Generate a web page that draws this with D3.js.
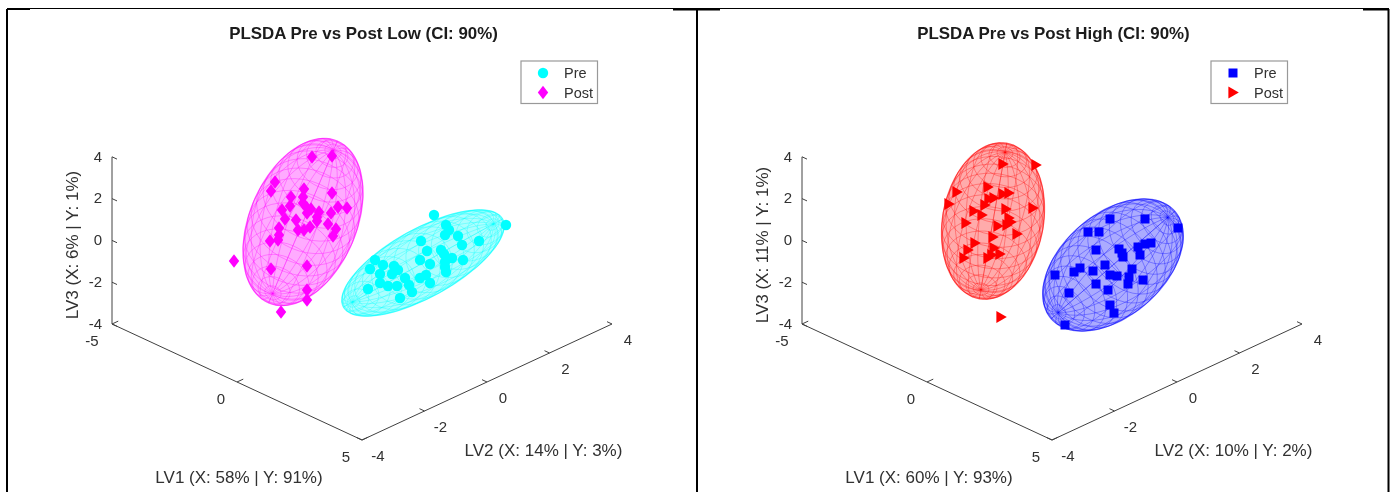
<!DOCTYPE html>
<html><head><meta charset="utf-8">
<script src="https://cdn.jsdelivr.net/npm/d3@7"></script>
<style>html,body{margin:0;background:#fff}svg{display:block}text{font-family:"Liberation Sans",Arial,sans-serif;fill:#303030}</style>
</head><body><div id="c"></div>
<script>
const titles = ["PLSDA Pre vs Post Low (CI: 90%)", "PLSDA Pre vs Post High (CI: 90%)"];
const legendNames = ["Pre", "Post"];
const lv1Labels = ["LV1 (X: 58% | Y: 91%)", "LV1 (X: 60% | Y: 93%)"];
const lv2Labels = ["LV2 (X: 14% | Y: 3%)", "LV2 (X: 10% | Y: 2%)"];
const lv3Labels = ["LV3 (X: 6% | Y: 1%)", "LV3 (X: 11% | Y: 1%)"];
const lv1Ticks = [-5, 0, 5];
const lv2Ticks = [-4, -2, 0, 2, 4];
const lv3Ticks = [-4, -2, 0, 2, 4];
// Point positions on the view plane of the 3D plot: [horizontal, vertical]
const preLow = [[7.2,22.5],[14.4,21.5],[8.4,21.5],[8.7,21.0],[8.3,20.5],[9.6,20.4],[5.9,19.9],[11.7,19.9],[10.0,19.5],[7.9,19.0],[6.5,18.9],[8.2,18.6],[9.0,18.2],[10.1,18.0],[5.8,18.0],[8.3,17.8],[1.3,18.0],[2.1,17.5],[6.8,17.6],[0.8,17.1],[3.2,17.4],[3.6,17.0],[3.0,16.6],[8.3,17.3],[8.4,16.8],[1.8,16.6],[4.3,16.2],[6.4,16.5],[5.8,16.2],[1.8,15.7],[2.6,15.4],[3.5,15.4],[4.7,15.5],[6.8,15.7],[5.0,14.8],[0.6,15.1],[3.8,14.2]];
const postLow = [[-5.0,28.3],[-3.0,28.4],[-8.7,25.8],[-9.1,24.9],[-5.8,25.1],[-3.0,24.7],[-7.1,24.3],[-5.9,24.3],[-7.2,23.4],[-5.9,23.7],[-5.5,23.2],[-8.0,23.0],[-5.1,23.1],[-4.3,22.8],[-5.5,22.7],[-2.4,23.3],[-1.5,23.2],[-3.1,22.7],[-4.5,22.3],[-7.7,22.1],[-6.6,22.0],[-4.5,21.9],[-3.4,21.6],[-8.3,21.2],[-5.2,21.3],[-6.4,21.0],[-5.8,21.0],[-2.6,21.1],[-2.9,20.4],[-8.3,20.5],[-9.2,19.9],[-8.4,20.0],[-12.8,17.9],[-9.1,17.1],[-5.5,17.4],[-5.5,15.0],[-5.5,14.0],[-8.1,12.8]];
const preHigh = [[5.8,22.1],[9.3,22.1],[12.6,21.2],[3.6,20.8],[4.7,20.8],[9.9,19.7],[9.3,19.6],[8.6,19.3],[4.4,19.0],[6.7,19.1],[7.0,18.7],[7.1,18.3],[8.8,18.5],[5.3,17.5],[8.0,17.1],[2.8,17.2],[2.2,16.8],[4.1,16.9],[0.3,16.5],[5.8,16.5],[6.5,16.4],[7.7,16.3],[9.1,16.0],[7.6,15.6],[4.4,15.6],[5.6,15.0],[1.7,14.7],[5.8,13.5],[6.2,12.7],[1.3,11.5]];
const postHigh = [[-4.9,27.6],[-1.6,27.5],[-6.4,25.3],[-9.5,24.8],[-4.3,24.7],[-4.9,24.6],[-5.8,24.2],[-6.3,24.1],[-10.3,23.6],[-6.7,23.5],[-4.6,23.1],[-1.9,23.2],[-7.8,22.9],[-7.0,22.5],[-4.3,22.2],[-8.6,21.7],[-4.1,21.8],[-5.4,21.4],[-4.5,21.5],[-3.5,20.6],[-5.9,20.3],[-7.7,19.7],[-5.8,19.2],[-8.4,19.0],[-5.2,18.6],[-6.0,18.5],[-8.8,18.2],[-6.4,18.2],[-5.1,12.3]];
// Confidence ellipsoids: [centre h, centre v, long semi-axis, short semi-axis, tilt in degrees]
const ellipsoidPreLow = [6.1,17.7,9.1,3.4,29];
const ellipsoidPostLow = [-5.9,21.8,8.8,5.35,67];
const ellipsoidPreHigh = [6.1,17.5,8.2,5.1,41];
const ellipsoidPostHigh = [-5.9,21.9,7.9,5.05,80];

const W = 1391, H = 492;
const svg = d3.select("#c").append("svg").attr("width", W).attr("height", H);
svg.append("defs").append("filter").attr("id","soft").attr("x","-5%").attr("y","-5%").attr("width","110%").attr("height","110%")
  .append("feGaussianBlur").attr("stdDeviation",0.45);

// Sheet frame
const frame = svg.append("g").attr("stroke", "#000").attr("fill", "none");
[[7,8.5,1389,8.5,1],[7,9,7,492,2],[697,9,697,492,2],[1388.5,9,1388.5,492,2],[7,9,30,9,2],[673,9.5,720,9.5,2],[1363,9.5,1389,9.5,2]].forEach(d=>
  frame.append("line").attr("x1",d[0]).attr("y1",d[1]).attr("x2",d[2]).attr("y2",d[3]).attr("stroke-width",d[4]));

// View-plane scales (one pair, each panel is translated)
const sx = d3.scaleLinear().domain([-25,25]).range([112,612]);
const sy = d3.scaleLinear().domain([0,30]).range([440,140]);
// Projection of (LV1, LV2, LV3) on the view plane
const project = (a,b,c) => [ -25 + (a+5)*2.5 + (b+4)*3.125, 11.6 - (a+5)*1.16 + (b+4)*1.45 + (c+4)*2.09 ];
const P = (a,b,c) => { const p = project(a,b,c); return [sx(p[0]), sy(p[1])]; };

const MESH = 20;
function spherePoint(lat, lon, tiltPole){
  const x = Math.cos(lat)*Math.cos(lon), y = Math.cos(lat)*Math.sin(lon), z = Math.sin(lat);
  return [z*Math.cos(tiltPole)+y*Math.sin(tiltPole), x];
}
function drawEllipsoid(g, e, color){
  const [ch,cv,a,b,t] = e, rad = t*Math.PI/180, pole = 28*Math.PI/180;
  const map = ([u,w]) => {
    const du = u*a, dw = w*b;
    return [sx(ch+du*Math.cos(rad)-dw*Math.sin(rad)), sy(cv+du*Math.sin(rad)+dw*Math.cos(rad))];
  };
  const line = d3.line();
  const outline = d3.range(0,361,4).map(d=>map([Math.cos(d*Math.PI/180),Math.sin(d*Math.PI/180)]));
  g.append("path").attr("d",line(outline)+"Z").attr("fill",color).attr("fill-opacity",0.33).attr("stroke",color).attr("stroke-opacity",0.45).attr("stroke-width",1.2);
  const mesh = g.append("g").attr("fill","none").attr("stroke",color).attr("stroke-opacity",0.33).attr("stroke-width",1);
  for(let i=1;i<MESH;i++){
    const lat = -Math.PI/2+i*Math.PI/MESH;
    mesh.append("path").attr("d",line(d3.range(0,41).map(k=>map(spherePoint(lat,k*Math.PI/20,pole)))));
  }
  for(let j=0;j<MESH;j++){
    const lon = j*2*Math.PI/MESH;
    mesh.append("path").attr("d",line(d3.range(0,41).map(k=>map(spherePoint(-Math.PI/2+k*Math.PI/40,lon,pole)))));
  }
}
function markerPath(kind){
  const p = d3.path();
  if(kind==="circle"){ p.arc(0,0,5.2,0,2*Math.PI); }
  else if(kind==="square"){ p.rect(-4.5,-4.5,9,9); }
  else if(kind==="diamond"){ p.moveTo(0,-6.8);p.lineTo(5.2,0);p.lineTo(0,6.8);p.lineTo(-5.2,0);p.closePath(); }
  else { p.moveTo(-4.6,-6);p.lineTo(5.8,0);p.lineTo(-4.6,6);p.closePath(); }
  return p.toString();
}
function drawPoints(g, pts, kind, color){
  g.append("g").selectAll("path").data(pts).join("path")
    .attr("transform",d=>`translate(${sx(d[0])},${sy(d[1])})`)
    .attr("d",markerPath(kind)).attr("fill",color);
}
function axisLine(g,a,b){
  g.append("line").attr("x1",a[0]).attr("y1",a[1]).attr("x2",b[0]).attr("y2",b[1]).attr("stroke","#404040").attr("stroke-width",1);
}
function panel(i, dx, pre, post, ePre, ePost, preStyle, postStyle){
  const g = svg.append("g").attr("transform",`translate(${dx},0)`).append("g").attr("filter","url(#soft)");
  g.append("text").attr("x",363.5).attr("y",39).attr("text-anchor","middle").attr("font-weight","bold").attr("font-size",16.9).style("fill","#1a1a1a").text(titles[i]);
  const ax = g.append("g");
  axisLine(ax,P(-5,-4,-4),P(5,-4,-4));
  axisLine(ax,P(5,-4,-4),P(5,4,-4));
  axisLine(ax,P(-5,-4,-4),P(-5,-4,4));
  lv1Ticks.forEach(t=>{ const p=P(t,-4,-4), q=P(t,-3.8,-4); axisLine(ax,p,q);
    ax.append("text").attr("x",p[0]-(t<0?20:16)).attr("y",p[1]+17).attr("text-anchor","middle").attr("font-size",15).attr("dy","0.35em").text(t); });
  lv2Ticks.forEach(t=>{ const p=P(5,t,-4), q=P(4.8,t,-4); axisLine(ax,p,q);
    ax.append("text").attr("x",p[0]+16).attr("y",p[1]+16).attr("text-anchor","middle").attr("font-size",15).attr("dy","0.35em").text(t); });
  lv3Ticks.forEach(t=>{ const p=P(-5,-4,t), q=P(-4.8,-4,t); axisLine(ax,p,q);
    ax.append("text").attr("x",p[0]-10).attr("y",p[1]-0.5).attr("text-anchor","end").attr("font-size",15).attr("dy","0.35em").text(t); });
  g.append("text").attr("x",239).attr("y",483).attr("text-anchor","middle").attr("font-size",17).text(lv1Labels[i]);
  g.append("text").attr("x",543.5).attr("y",456).attr("text-anchor","middle").attr("font-size",17).text(lv2Labels[i]);
  g.append("text").attr("transform","translate(78,245) rotate(-90)").attr("text-anchor","middle").attr("font-size",17).text(lv3Labels[i]);
  drawEllipsoid(g,ePost,postStyle[1]);
  drawEllipsoid(g,ePre,preStyle[1]);
  drawPoints(g,post,postStyle[0],postStyle[1]);
  drawPoints(g,pre,preStyle[0],preStyle[1]);
  // legend
  const lg = g.append("g");
  lg.append("rect").attr("x",521).attr("y",61).attr("width",76.5).attr("height",42.5).attr("fill","#fff").attr("stroke","#999").attr("stroke-width",1.2);
  [preStyle,postStyle].forEach((s,k)=>{
    const y = 73+k*19.5;
    lg.append("path").attr("transform",`translate(543,${y})`).attr("d",markerPath(s[0])).attr("fill",s[1]);
    lg.append("text").attr("x",564).attr("y",y).attr("dy","0.35em").attr("font-size",14.5).text(legendNames[k]);
  });
}
panel(0,0,preLow,postLow,ellipsoidPreLow,ellipsoidPostLow,["circle","#00ffff"],["diamond","#ff00ff"]);
panel(1,690,preHigh,postHigh,ellipsoidPreHigh,ellipsoidPostHigh,["square","#0000ff"],["triangle","#ff0000"]);
</script></body></html>
